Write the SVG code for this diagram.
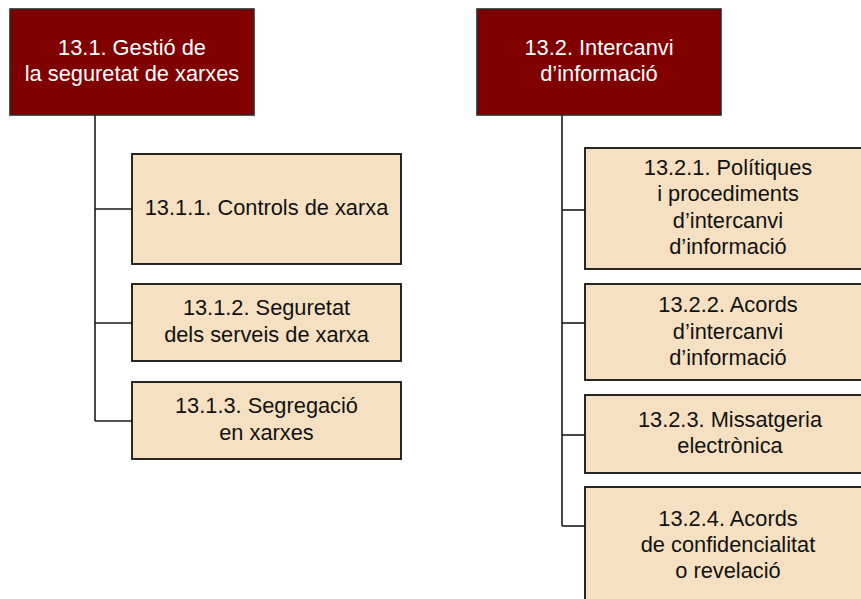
<svg xmlns="http://www.w3.org/2000/svg" width="861" height="599" viewBox="0 0 861 599">
<style>
.title rect{fill:#800000;stroke:#2b2b2b;stroke-width:1.6}
.title text{fill:#ffffff}
.item rect{fill:#f5e1c2;stroke:#111111;stroke-width:1.8}
.item text{fill:#111111}
text{font-family:"Liberation Sans",Arial,sans-serif;font-size:21.8px;text-anchor:middle}
.conn line{stroke:#1a1a1a;stroke-width:1.6}
</style>
<rect width="861" height="599" fill="#ffffff"/>
<g class="conn">
<line x1="95" y1="115" x2="95" y2="421"/>
<line x1="95" y1="209" x2="132" y2="209"/>
<line x1="95" y1="323" x2="132" y2="323"/>
<line x1="95" y1="421" x2="132" y2="421"/>
<line x1="562" y1="115" x2="562" y2="526"/>
<line x1="562" y1="210" x2="585" y2="210"/>
<line x1="562" y1="323" x2="585" y2="323"/>
<line x1="562" y1="435" x2="585" y2="435"/>
<line x1="562" y1="526" x2="585" y2="526"/>
</g>
<g id="n13_1" class="title">
<rect x="10" y="9" width="244" height="106"/>
<text x="132" y="54.9">13.1. Gestió de</text>
<text x="132" y="81.2">la seguretat de xarxes</text>
</g>
<g id="n13_2" class="title">
<rect x="477" y="9" width="244" height="106"/>
<text x="599" y="54.9">13.2. Intercanvi</text>
<text x="599" y="81.2">d’informació</text>
</g>
<g id="n13_1_1" class="item">
<rect x="132" y="154" width="269" height="110"/>
<text x="266.5" y="215">13.1.1. Controls de xarxa</text>
</g>
<g id="n13_1_2" class="item">
<rect x="132" y="284" width="269" height="77"/>
<text x="266.5" y="315.4">13.1.2. Seguretat</text>
<text x="266.5" y="341.7">dels serveis de xarxa</text>
</g>
<g id="n13_1_3" class="item">
<rect x="132" y="382" width="269" height="77"/>
<text x="266.5" y="413.4">13.1.3. Segregació</text>
<text x="266.5" y="439.7">en xarxes</text>
</g>
<g id="n13_2_1" class="item">
<rect x="585" y="148" width="286" height="121"/>
<text x="728" y="175.1">13.2.1. Polítiques</text>
<text x="728" y="201.4">i procediments</text>
<text x="728" y="227.7">d’intercanvi</text>
<text x="728" y="254">d’informació</text>
</g>
<g id="n13_2_2" class="item">
<rect x="585" y="284" width="286" height="96"/>
<text x="728" y="312.2">13.2.2. Acords</text>
<text x="728" y="338.5">d’intercanvi</text>
<text x="728" y="364.8">d’informació</text>
</g>
<g id="n13_2_3" class="item">
<rect x="585" y="395" width="286" height="78"/>
<text x="730" y="427.1">13.2.3. Missatgeria</text>
<text x="730" y="453.4">electrònica</text>
</g>
<g id="n13_2_4" class="item">
<rect x="585" y="487" width="286" height="120"/>
<text x="728" y="525.7">13.2.4. Acords</text>
<text x="728" y="551.9">de confidencialitat</text>
<text x="728" y="578">o revelació</text>
</g>
</svg>
